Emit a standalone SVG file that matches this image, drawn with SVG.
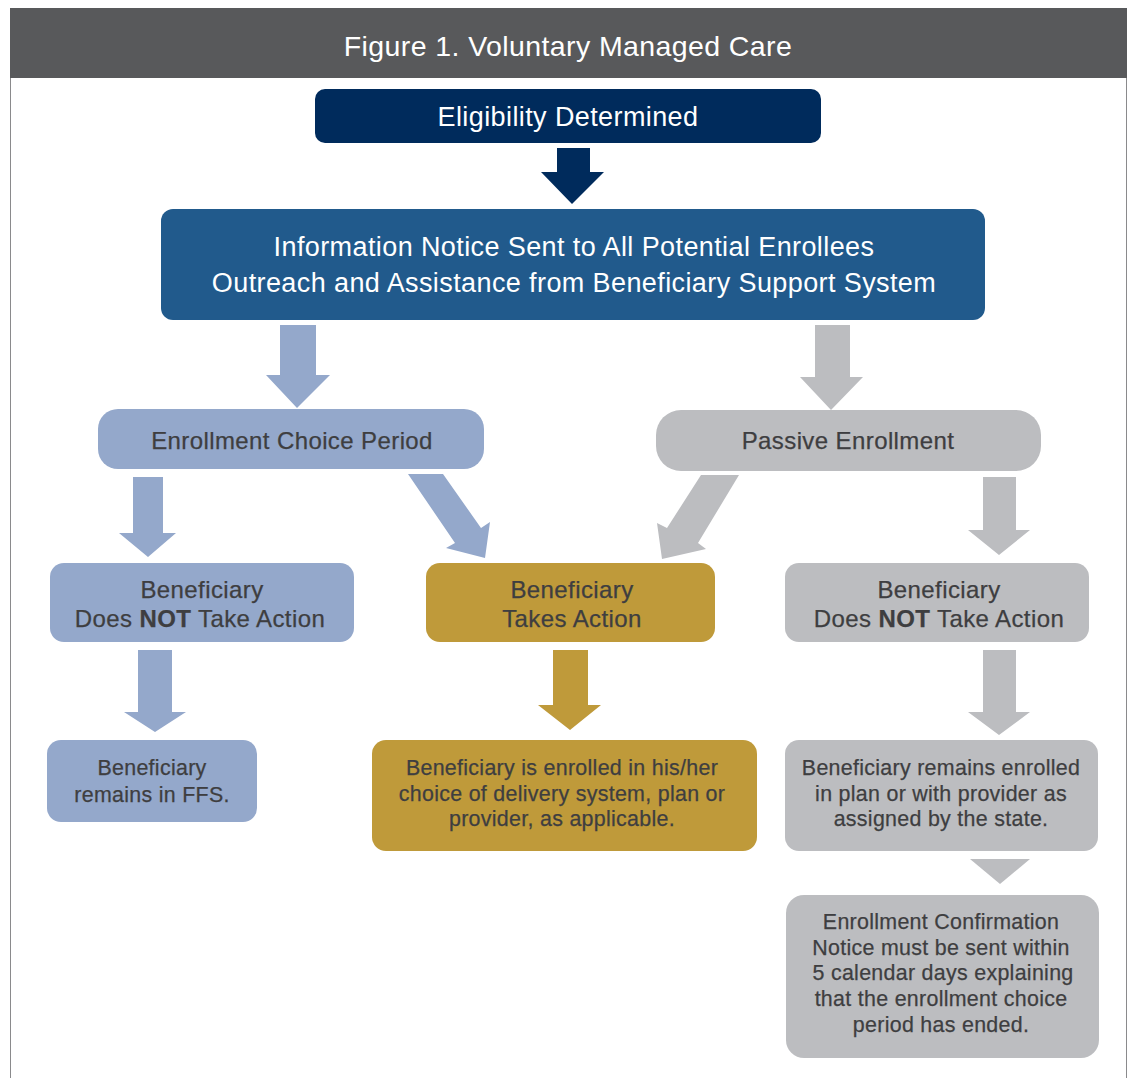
<svg xmlns="http://www.w3.org/2000/svg" width="1131" height="1078" viewBox="0 0 1131 1078">
  <style>
    .t { font-family: "Liberation Sans", Arial, sans-serif; text-anchor: middle; }
    .w { fill: #ffffff; letter-spacing: 0.4px; }
    .d { fill: #3e3e40; stroke: #3e3e40; stroke-width: 0.25; }
    .lg { font-size: 24px; letter-spacing: 0.4px; }
    .sm { font-size: 21.4px; letter-spacing: 0.3px; }
    .blue { fill: #94a8cb; }
    .grey { fill: #bcbdc0; }
    .gold { fill: #bf9a3a; }
  </style>
  <rect x="0" y="0" width="1131" height="1078" fill="#ffffff"/>

  <!-- frame and title bar -->
  <g id="frame">
    <rect x="10.5" y="8.5" width="1116" height="1080" fill="none" stroke="#8a8a8c" stroke-width="1"/>
    <rect x="10" y="8" width="1117" height="70" fill="#58595b"/>
    <text class="t w" x="568" y="56" font-size="28.5">Figure 1. Voluntary Managed Care</text>
  </g>

  <!-- connectors -->
  <g id="connectors">
    <polygon fill="#002b5c" points="557,148 590,148 590,172 604,172 572,204 541,172 557,172"/>
    <polygon class="blue" points="280,325 316,325 316,375 330,375 297,408 266,375 280,375"/>
    <polygon class="grey" points="815,325 850,325 850,377 863,377 831,410 800,377 815,377"/>
    <polygon class="blue" points="133,477 163,477 163,533 176,533 148,557 119,533 133,533"/>
    <polygon class="blue" points="408,474 443,474 481,528 490,522 485,558 446,548 455,543"/>
    <polygon class="grey" points="701,475 739,475 698,543 706,549 662,559 657,523 667,528"/>
    <polygon class="grey" points="983,477 1016,477 1016,530 1030,530 999,555 968,530 983,530"/>
    <polygon class="blue" points="138,650 172,650 172,712 186,712 155,732 124,712 138,712"/>
    <polygon class="gold" points="553,650 588,650 588,705 601,705 570,730 538,705 553,705"/>
    <polygon class="grey" points="983,650 1016,650 1016,712 1030,712 999,735 968,712 983,712"/>
    <polygon class="grey" points="970,859 1030,859 1000,884"/>
  </g>

  <g id="eligibility">
    <rect x="315" y="89" width="506" height="54" rx="10" fill="#002b5c"/>
    <text class="t w" x="568" y="126" font-size="27">Eligibility Determined</text>
  </g>

  <g id="information-notice">
    <rect x="161" y="209" width="824" height="111" rx="12" fill="#215a8c"/>
    <text class="t w" x="574" y="256" font-size="27">Information Notice Sent to All Potential Enrollees</text>
    <text class="t w" x="574" y="292" font-size="27">Outreach and Assistance from Beneficiary Support System</text>
  </g>

  <g id="choice-period">
    <rect class="blue" x="98" y="409" width="386" height="60" rx="20"/>
    <text class="t d lg" x="292" y="449">Enrollment Choice Period</text>
  </g>

  <g id="passive-enrollment">
    <rect class="grey" x="656" y="410" width="385" height="61" rx="25"/>
    <text class="t d lg" x="848" y="449">Passive Enrollment</text>
  </g>

  <g id="choice-no-action">
    <rect class="blue" x="50" y="563" width="304" height="79" rx="14"/>
    <text class="t d lg" x="202" y="598">Beneficiary</text>
    <text class="t d lg" x="200" y="627">Does <tspan font-weight="bold">NOT</tspan> Take Action</text>
  </g>

  <g id="takes-action">
    <rect class="gold" x="426" y="563" width="289" height="79" rx="14"/>
    <text class="t d lg" x="572" y="598">Beneficiary</text>
    <text class="t d lg" x="572" y="627">Takes Action</text>
  </g>

  <g id="passive-no-action">
    <rect class="grey" x="785" y="563" width="304" height="79" rx="14"/>
    <text class="t d lg" x="939" y="598">Beneficiary</text>
    <text class="t d lg" x="939" y="627">Does <tspan font-weight="bold">NOT</tspan> Take Action</text>
  </g>

  <g id="remains-ffs">
    <rect class="blue" x="47" y="740" width="210" height="82" rx="14"/>
    <text class="t d sm" x="152" y="775">Beneficiary</text>
    <text class="t d sm" x="152" y="802">remains in FFS.</text>
  </g>

  <g id="enrolled-by-choice">
    <rect class="gold" x="372" y="740" width="385" height="111" rx="14"/>
    <text class="t d sm" x="562" y="775">Beneficiary is enrolled in his/her</text>
    <text class="t d sm" x="562" y="801">choice of delivery system, plan or</text>
    <text class="t d sm" x="562" y="826">provider, as applicable.</text>
  </g>

  <g id="remains-assigned">
    <rect class="grey" x="785" y="740" width="313" height="111" rx="14"/>
    <text class="t d sm" x="941" y="775">Beneficiary remains enrolled</text>
    <text class="t d sm" x="941" y="801">in plan or with provider as</text>
    <text class="t d sm" x="941" y="826">assigned by the state.</text>
  </g>

  <g id="confirmation-notice">
    <rect class="grey" x="786" y="895" width="313" height="163" rx="18"/>
    <text class="t d sm" x="941" y="929">Enrollment Confirmation</text>
    <text class="t d sm" x="941" y="955">Notice must be sent within</text>
    <text class="t d sm" x="943" y="980">5 calendar days explaining</text>
    <text class="t d sm" x="941" y="1006">that the enrollment choice</text>
    <text class="t d sm" x="941" y="1032">period has ended.</text>
  </g>
</svg>
